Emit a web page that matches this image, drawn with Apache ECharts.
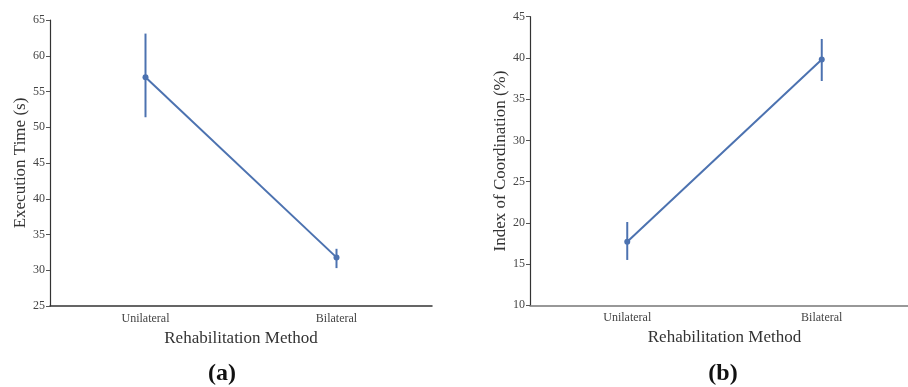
<!DOCTYPE html>
<html>
<head>
<meta charset="utf-8">
<script src="https://cdn.jsdelivr.net/npm/echarts@6/dist/echarts.min.js"></script>
<style>
    html, body { margin: 0; padding: 0; background: #fff; overflow: hidden; }
    #chart { width: 920px; height: 387px; }
</style>
</head>
<body>
<div id="chart"></div>
<script>
    // categories
    const methods = ['Unilateral', 'Bilateral'];

    // (a) execution time, mean and error bar ends
    const timeMean = [57.0, 31.8];
    const timeLow = [51.4, 30.3];
    const timeHigh = [63.1, 33.0];

    // (b) index of coordination
    const icMean = [17.7, 39.8];
    const icLow = [15.5, 37.2];
    const icHigh = [20.1, 42.3];

    const blue = '#4c72b0';
    const serif = '"Liberation Serif", "DejaVu Serif", serif';

    function errData(low, high) {
        return methods.map((m, i) => [i, low[i], high[i]]);
    }

    function errBars(xi, yi, low, high) {
        return {
            type: 'custom',
            xAxisIndex: xi,
            yAxisIndex: yi,
            data: errData(low, high),
            z: 3,
            renderItem: function (params, api) {
                const p1 = api.coord([api.value(0), api.value(1)]);
                const p2 = api.coord([api.value(0), api.value(2)]);
                return {
                    type: 'line',
                    shape: { x1: p1[0], y1: p1[1], x2: p2[0], y2: p2[1] },
                    style: { stroke: blue, lineWidth: 2 }
                };
            }
        };
    }

    function xAxisOpt(gi, lineColor) {
        return {
            type: 'category',
            gridIndex: gi,
            data: methods,
            name: 'Rehabilitation Method',
            nameLocation: 'middle',
            nameGap: 21,
            nameTextStyle: { fontFamily: serif, fontSize: 17, color: '#333' },
            axisLine: { lineStyle: { color: lineColor, width: 1.5 } },
            axisTick: { alignWithLabel: true, length: 4, lineStyle: { color: '#555' } },
            axisLabel: { fontFamily: serif, fontSize: 12, color: '#444', margin: 7 },
            splitLine: { show: false }
        };
    }

    function yAxisOpt(gi, min, max, name, gap) {
        return {
            type: 'value',
            gridIndex: gi,
            min: min,
            max: max,
            interval: 5,
            name: name,
            nameLocation: 'middle',
            nameGap: gap,
            nameTextStyle: { fontFamily: serif, fontSize: 17, color: '#333' },
            axisLine: { show: true, lineStyle: { color: '#333', width: 1.2 } },
            axisTick: { show: true, length: 4, lineStyle: { color: '#555' } },
            axisLabel: { fontFamily: serif, fontSize: 12, color: '#444', margin: 5 },
            splitLine: { show: false }
        };
    }

    const chart = echarts.init(document.getElementById('chart'));

    const option = {
        animation: false,
        backgroundColor: '#fff',
        title: [
            {
                text: '(a)', left: 217, top: 357, textAlign: 'center',
                textStyle: { fontFamily: serif, fontSize: 24, fontWeight: 'bold', color: '#111' }
            },
            {
                text: '(b)', left: 718, top: 357, textAlign: 'center',
                textStyle: { fontFamily: serif, fontSize: 24, fontWeight: 'bold', color: '#111' }
            }
        ],
        grid: [
            { left: 50, top: 20, width: 382, height: 286 },
            { left: 530, top: 16.7, width: 389, height: 288.6 }
        ],
        xAxis: [xAxisOpt(0, '#333'), xAxisOpt(1, '#777')],
        yAxis: [
            yAxisOpt(0, 25, 65, 'Execution Time (s)', 20),
            yAxisOpt(1, 10, 45, 'Index of Coordination (%)', 18)
        ],
        series: [
            {
                type: 'line',
                xAxisIndex: 0,
                yAxisIndex: 0,
                data: timeMean,
                symbol: 'circle',
                symbolSize: 6,
                lineStyle: { color: blue, width: 2 },
                itemStyle: { color: blue },
                z: 4
            },
            errBars(0, 0, timeLow, timeHigh),
            {
                type: 'line',
                xAxisIndex: 1,
                yAxisIndex: 1,
                data: icMean,
                symbol: 'circle',
                symbolSize: 6,
                lineStyle: { color: blue, width: 2 },
                itemStyle: { color: blue },
                z: 4
            },
            errBars(1, 1, icLow, icHigh)
        ]
    };

    chart.setOption(option);
</script>
</body>
</html>
